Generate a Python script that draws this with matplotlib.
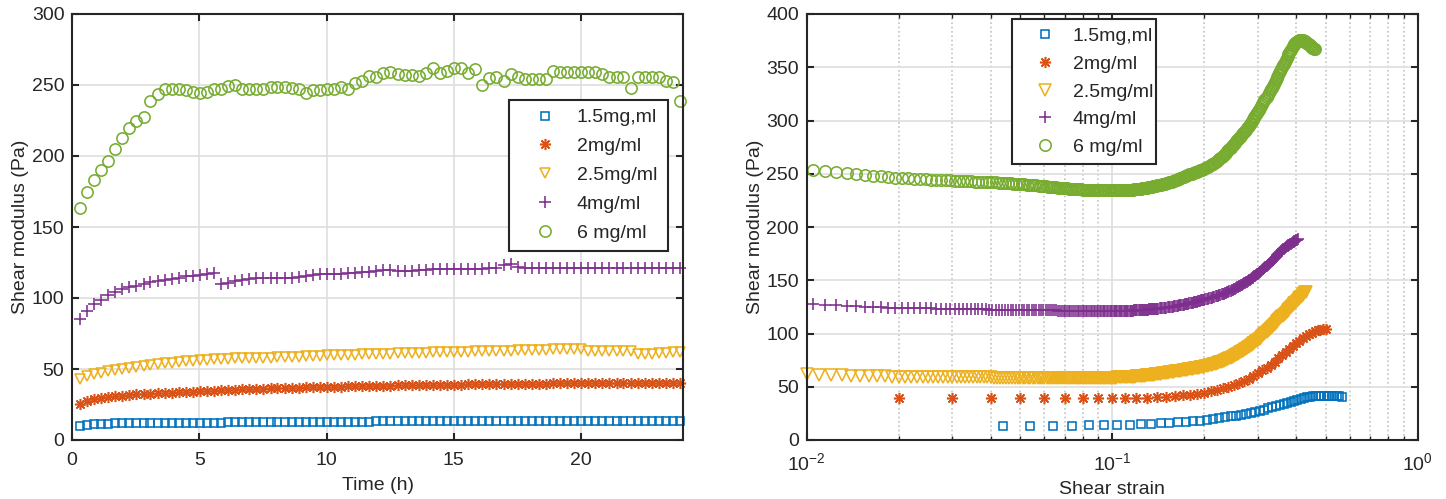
import matplotlib
matplotlib.use("Agg")
import matplotlib.pyplot as plt
from matplotlib.ticker import LogLocator, NullFormatter, FixedLocator

# ---------------- data ----------------
labels = ["1.5mg,ml", "2mg/ml", "2.5mg/ml", "4mg/ml", "6 mg/ml"]
colors = ["#0072BD", "#D95319", "#EDB120", "#7E2F8E", "#77AC30"]

left_xticks = [0, 5, 10, 15, 20]
left_yticks = [0, 50, 100, 150, 200, 250, 300]
right_yticks = [0, 50, 100, 150, 200, 250, 300, 350, 400]

time_h = [0.31, 0.59, 0.86, 1.14, 1.42, 1.70, 1.97, 2.25, 2.53, 2.81,
          3.08, 3.36, 3.64, 3.92, 4.19, 4.47, 4.75, 5.02, 5.30, 5.58,
          5.86, 6.13, 6.41, 6.69, 6.97, 7.24, 7.52, 7.80, 8.07, 8.35,
          8.63, 8.91, 9.18, 9.46, 9.74, 10.02, 10.29, 10.57, 10.85, 11.13,
          11.40, 11.68, 11.96, 12.23, 12.51, 12.79, 13.07, 13.34, 13.62, 13.90,
          14.18, 14.45, 14.73, 15.01, 15.28, 15.56, 15.84, 16.12, 16.39, 16.67,
          16.95, 17.23, 17.50, 17.78, 18.06, 18.34, 18.61, 18.89, 19.17, 19.44,
          19.72, 20.00, 20.28, 20.55, 20.83, 21.11, 21.39, 21.66, 21.94, 22.22,
          22.49, 22.77, 23.05, 23.33, 23.60, 23.88]

g_time_15 = [10.1, 10.8, 11.2, 11.5, 11.6, 11.7, 11.8, 11.9, 11.9, 12.0,
             12.0, 12.0, 12.1, 12.1, 12.1, 12.2, 12.2, 12.2, 12.3, 12.3,
             12.3, 12.4, 12.4, 12.4, 12.5, 12.5, 12.5, 12.6, 12.6, 12.6,
             12.7, 12.7, 12.7, 12.8, 12.8, 12.8, 12.9, 12.9, 12.9, 13.0,
             13.0, 13.0, 13.1, 13.1, 13.1, 13.1, 13.1, 13.1, 13.1, 13.1,
             13.2, 13.2, 13.2, 13.2, 13.2, 13.2, 13.2, 13.2, 13.3, 13.3,
             13.3, 13.3, 13.3, 13.3, 13.3, 13.3, 13.4, 13.4, 13.4, 13.4,
             13.4, 13.4, 13.4, 13.4, 13.5, 13.5, 13.5, 13.5, 13.5, 13.5,
             13.6, 13.6, 13.6, 13.6, 13.6, 13.6]
g_time_2 = [25.1, 27.5, 28.9, 29.8, 30.3, 31.0, 31.2, 31.7, 32.2, 32.2,
            32.6, 32.8, 33.1, 33.3, 33.6, 33.8, 34.0, 34.3, 34.5, 34.7,
            35.0, 35.2, 35.4, 35.6, 35.8, 35.9, 36.1, 36.3, 36.4, 36.6,
            36.7, 36.9, 37.0, 37.1, 37.3, 37.4, 37.5, 37.6, 37.7, 37.8,
            37.9, 38.0, 38.1, 38.2, 38.3, 38.4, 38.4, 38.5, 38.6, 38.7,
            38.7, 38.8, 38.9, 38.9, 39.0, 39.1, 39.1, 39.2, 39.3, 39.3,
            39.4, 39.5, 39.5, 39.6, 39.6, 39.7, 39.7, 39.8, 39.8, 39.9,
            39.9, 40.0, 40.0, 40.1, 40.1, 40.1, 40.2, 40.2, 40.2, 40.3,
            40.3, 40.3, 40.4, 40.4, 40.4, 40.4]
g_time_25 = [42.7, 45.1, 46.5, 47.4, 48.6, 49.5, 50.2, 50.9, 51.6, 52.3,
             52.8, 53.3, 54.0, 54.5, 54.9, 55.4, 55.6, 56.1, 56.6, 56.8,
             57.0, 57.2, 57.4, 57.5, 57.7, 57.8, 57.9, 58.0, 58.2, 58.4,
             58.6, 58.8, 59.0, 59.2, 59.4, 59.6, 59.9, 60.0, 60.1, 60.2,
             60.3, 60.5, 60.6, 60.8, 60.9, 61.0, 61.2, 61.3, 61.4, 61.5,
             61.7, 61.8, 61.9, 62.0, 62.2, 62.3, 62.4, 62.5, 62.6, 62.7,
             62.9, 63.0, 63.1, 63.2, 63.3, 63.5, 63.6, 63.8, 63.9, 64.0,
             64.2, 64.3, 63.0, 62.9, 62.9, 62.8, 62.8, 62.8, 62.7, 60.3,
             60.6, 60.9, 61.2, 61.5, 61.8, 62.0]
g_time_4 = [85.2, 90.8, 95.5, 98.6, 102.1, 104.0, 106.1, 107.5, 108.7, 109.9,
            111.0, 112.2, 112.9, 113.4, 113.8, 115.3, 115.5, 116.2, 116.9, 117.6,
            110.1, 110.8, 111.7, 112.5, 113.4, 113.8, 113.8, 113.8, 113.8, 114.3,
            114.3, 114.8, 115.3, 116.2, 116.9, 116.9, 116.9, 116.9, 117.4, 117.8,
            118.3, 118.5, 119.0, 119.5, 119.7, 119.2, 119.2, 119.2, 119.9, 119.9,
            120.1, 120.1, 120.2, 120.2, 120.7, 120.7, 120.7, 120.7, 121.1, 121.1,
            122.9, 123.7, 121.8, 121.0, 121.0, 120.8, 120.8, 120.8, 120.8, 120.8,
            121.0, 121.0, 121.0, 121.0, 120.8, 120.8, 121.0, 121.0, 121.2, 121.2,
            121.0, 121.0, 121.2, 121.2, 121.2, 121.4]
g_time_6 = [163.2, 174.6, 183.0, 190.0, 196.5, 204.7, 212.9, 219.5, 224.9, 227.5,
            239.0, 243.4, 247.2, 247.2, 247.2, 246.2, 245.3, 244.4, 245.3, 247.0,
            247.5, 249.3, 250.2, 247.5, 247.5, 247.5, 247.5, 248.4, 248.8, 248.8,
            248.0, 247.2, 244.6, 246.2, 246.2, 247.0, 247.5, 248.4, 247.5, 251.6,
            252.8, 256.3, 255.4, 258.2, 258.9, 257.5, 256.8, 256.8, 256.3, 258.7,
            262.2, 258.2, 260.1, 262.2, 262.2, 258.7, 261.5, 250.0, 254.7, 255.9,
            253.1, 257.8, 255.9, 254.2, 254.2, 254.2, 254.2, 259.9, 259.4, 258.9,
            258.9, 258.9, 258.9, 258.9, 257.8, 255.9, 255.4, 255.4, 247.6, 255.4,
            255.4, 255.9, 255.9, 253.1, 252.3, 238.7]

# strain grids (right panel)
strain_a = [0.0105, 0.0115, 0.0125, 0.0135, 0.0145, 0.0155, 0.0165, 0.0175, 0.0185, 0.0195,
            0.0205, 0.0215, 0.0225, 0.0235, 0.0245, 0.0255, 0.0265, 0.0275, 0.0285, 0.0295,
            0.0305, 0.0315, 0.0325, 0.0335, 0.0345, 0.0355, 0.0365, 0.0375, 0.0385, 0.0395,
            0.0405, 0.0415, 0.0425, 0.0435, 0.0445, 0.0455, 0.0465, 0.0475, 0.0485, 0.0495,
            0.0505, 0.0515, 0.0525, 0.0535, 0.0545, 0.0555, 0.0565, 0.0575, 0.0585, 0.0595,
            0.0605, 0.0615, 0.0625, 0.0635, 0.0645, 0.0655, 0.0665, 0.0675, 0.0685, 0.0695]
strain_b = [0.010, 0.011, 0.012, 0.013, 0.014, 0.015, 0.016, 0.017, 0.018, 0.019,
            0.020, 0.021, 0.022, 0.023, 0.024, 0.025, 0.026, 0.027, 0.028, 0.029,
            0.030, 0.031, 0.032, 0.033, 0.034, 0.035, 0.036, 0.037, 0.038, 0.039,
            0.040, 0.041, 0.042, 0.043, 0.044, 0.045, 0.046, 0.047, 0.048, 0.049,
            0.050, 0.051, 0.052, 0.053, 0.054, 0.055, 0.056, 0.057, 0.058, 0.059,
            0.060, 0.061, 0.062, 0.063, 0.064, 0.065, 0.066, 0.067, 0.068, 0.069]
strain_tail = [0.070, 0.071, 0.072, 0.073, 0.074, 0.075, 0.076, 0.077, 0.078, 0.079,
               0.080, 0.081, 0.082, 0.083, 0.084, 0.085, 0.086, 0.087, 0.088, 0.089,
               0.090, 0.091, 0.092, 0.093, 0.094, 0.095, 0.096, 0.097, 0.098, 0.099,
               0.100,
               0.101, 0.102, 0.103, 0.104, 0.105, 0.106, 0.107, 0.108, 0.109, 0.110,
               0.111, 0.112, 0.113, 0.114, 0.115, 0.116, 0.117, 0.118, 0.119, 0.120,
               0.121, 0.122, 0.123, 0.124, 0.125, 0.126, 0.127, 0.128, 0.129, 0.130,
               0.131, 0.132, 0.133, 0.134, 0.135, 0.136, 0.137, 0.138, 0.139, 0.140,
               0.1415, 0.1430, 0.1445, 0.1460, 0.1475, 0.1490, 0.1505, 0.1520, 0.1535, 0.1550,
               0.1565, 0.1580, 0.1595, 0.1610, 0.1625, 0.1640, 0.1655, 0.1670, 0.1685, 0.1700,
               0.1715, 0.1730, 0.1745, 0.1760, 0.1775, 0.1790, 0.1805, 0.1820, 0.1835, 0.1850,
               0.1865, 0.1880, 0.1895, 0.1910, 0.1925, 0.1940, 0.1955, 0.1970, 0.1985, 0.2000,
               0.202, 0.204, 0.206, 0.208, 0.210, 0.212, 0.214, 0.216, 0.218, 0.220,
               0.222, 0.224, 0.226, 0.228, 0.230, 0.232, 0.234, 0.236, 0.238, 0.240,
               0.242, 0.244, 0.246, 0.248, 0.250, 0.252, 0.254, 0.256, 0.258, 0.260,
               0.262, 0.264, 0.266, 0.268, 0.270, 0.272, 0.274, 0.276, 0.278, 0.280,
               0.282, 0.284, 0.286, 0.288, 0.290, 0.292, 0.294, 0.296, 0.298, 0.300,
               0.3025, 0.3050, 0.3075, 0.3100, 0.3125, 0.3150, 0.3175, 0.3200, 0.3225, 0.3250,
               0.3275, 0.3300, 0.3325, 0.3350, 0.3375, 0.3400, 0.3425, 0.3450, 0.3475, 0.3500,
               0.3525, 0.3550, 0.3575, 0.3600, 0.3625, 0.3650, 0.3675, 0.3700, 0.3725, 0.3750,
               0.3775, 0.3800, 0.3825, 0.3850, 0.3875, 0.3900, 0.3925, 0.3950, 0.3975, 0.4000,
               0.4025, 0.4050, 0.4075, 0.4100, 0.4125, 0.4150, 0.4175, 0.4200, 0.4225, 0.4250,
               0.4275, 0.4300, 0.4325, 0.4350, 0.4375, 0.4400, 0.4425, 0.4450, 0.4475, 0.4500,
               0.4525, 0.4550, 0.4575, 0.4600, 0.4625, 0.4650]
strain_2 = [0.02, 0.03, 0.04, 0.05, 0.06, 0.07, 0.08, 0.09, 0.10, 0.11,
            0.12, 0.13, 0.14, 0.15, 0.16, 0.17, 0.18, 0.19, 0.20, 0.21,
            0.22, 0.23, 0.24, 0.25, 0.26, 0.27, 0.28, 0.29, 0.30, 0.31,
            0.32, 0.33, 0.34, 0.35, 0.36, 0.37, 0.38, 0.39, 0.40, 0.41,
            0.42, 0.43, 0.44, 0.45, 0.46, 0.47, 0.48, 0.49, 0.50]
strain_15 = [0.044, 0.054, 0.064, 0.074, 0.084, 0.094, 0.104, 0.114, 0.124, 0.134,
             0.144, 0.154, 0.164, 0.174, 0.184, 0.194, 0.204, 0.214, 0.224, 0.234,
             0.244, 0.254, 0.264, 0.274, 0.284, 0.294, 0.304, 0.314, 0.324, 0.334,
             0.344, 0.354, 0.364, 0.374, 0.384, 0.394, 0.404, 0.414, 0.424, 0.434,
             0.444, 0.454, 0.464, 0.474, 0.484, 0.494, 0.504, 0.514, 0.524, 0.534,
             0.544, 0.554, 0.564]

g_strain_15 = [13.5, 13.5, 13.5, 13.6, 13.7, 13.8, 13.9, 14.2, 14.6, 15.0,
               15.5, 16.0, 16.5, 17.0, 17.6, 18.2, 18.9, 19.6, 20.4, 21.2,
               22.1, 23.0, 23.9, 24.8, 25.7, 26.6, 27.6, 28.6, 29.7, 30.8,
               31.9, 33.0, 34.1, 35.1, 36.1, 37.0, 37.9, 38.7, 39.4, 40.0,
               40.5, 40.9, 41.2, 41.4, 41.5, 41.5, 41.4, 41.3, 41.2, 41.1,
               41.0, 40.9, 40.8]
g_strain_2 = [39.2, 39.2, 39.1, 39.0, 39.0, 39.0, 39.0, 39.0, 39.0, 39.1,
              39.3, 39.6, 40.0, 40.5, 41.1, 41.8, 42.6, 43.5, 44.6, 45.8,
              47.1, 48.5, 50.0, 51.6, 53.5, 55.5, 57.7, 60.1, 62.6, 65.3,
              68.0, 70.8, 73.7, 76.7, 79.6, 82.5, 85.4, 88.2, 90.8, 93.3,
              95.6, 97.6, 99.4, 100.8, 102.0, 102.9, 103.5, 103.9, 104.0]
g_strain_25 = [62.0, 61.4, 61.0, 60.7, 60.5, 60.3, 60.1, 59.9, 59.8, 59.6,
               59.5, 59.4, 59.4, 59.3, 59.3, 59.2, 59.2, 59.1, 59.1, 59.0,
               59.0, 59.0, 58.9, 58.9, 58.9, 58.8, 58.8, 58.8, 58.7, 58.7,
               58.7, 58.6, 58.6, 58.6, 58.5, 58.5, 58.5, 58.4, 58.4, 58.3,
               58.3, 58.3, 58.2, 58.2, 58.2, 58.2, 58.2, 58.2, 58.2, 58.2,
               58.2, 58.2, 58.2, 58.2, 58.2, 58.2, 58.2, 58.2, 58.2, 58.2,
               58.2, 58.2, 58.2, 58.2, 58.2, 58.2, 58.2, 58.2, 58.3, 58.3,
               58.3, 58.3, 58.3, 58.3, 58.3, 58.3, 58.3, 58.4, 58.4, 58.4,
               58.4, 58.4, 58.4, 58.4, 58.4, 58.5, 58.5, 58.5, 58.5, 58.5,
               58.5,
               58.5, 58.6, 58.6, 58.7, 58.7, 58.8, 58.8, 58.9, 58.9, 59.0,
               59.0, 59.1, 59.2, 59.3, 59.3, 59.4, 59.5, 59.6, 59.6, 59.7,
               59.8, 59.9, 60.0, 60.1, 60.2, 60.3, 60.4, 60.5, 60.6, 60.7,
               60.8, 60.9, 61.0, 61.2, 61.3, 61.4, 61.5, 61.6, 61.8, 61.9,
               62.0, 62.2, 62.4, 62.6, 62.8, 63.0, 63.1, 63.3, 63.5, 63.7,
               63.8, 64.0, 64.2, 64.4, 64.5, 64.7, 64.9, 65.1, 65.2, 65.4,
               65.6, 65.8, 65.9, 66.1, 66.3, 66.5, 66.6, 66.8, 67.0, 67.2,
               67.3, 67.5, 67.7, 67.9, 68.0, 68.2, 68.4, 68.6, 68.7, 68.9,
               69.2, 69.5, 69.8, 70.1, 70.4, 70.7, 71.0, 71.4, 71.7, 72.0,
               72.4, 72.8, 73.2, 73.6, 74.0, 74.5, 74.9, 75.4, 75.9, 76.4,
               76.9, 77.4, 77.9, 78.4, 78.9, 79.5, 80.0, 80.6, 81.1, 81.7,
               82.2, 82.8, 83.3, 83.9, 84.5, 85.1, 85.7, 86.3, 86.9, 87.5,
               88.1, 88.8, 89.4, 90.1, 90.7, 91.4, 92.0, 92.7, 93.3, 93.9,
               94.6, 95.3, 96.3, 97.2, 98.2, 99.1, 100.1, 101.0, 102.0, 102.9,
               103.9, 104.8, 105.8, 106.7, 107.7, 108.6, 109.6, 110.5, 111.5, 112.4,
               113.3, 114.2, 115.1, 116.0, 116.9, 117.8, 118.7, 119.6, 120.5, 121.4,
               122.3, 123.1, 124.0, 124.8, 125.7, 126.5, 127.4, 128.2, 129.1, 129.9,
               130.7, 131.5, 132.3, 133.1, 133.9, 134.7, 135.5, 136.3, 137.1, 137.8,
               138.6, 139.3]
g_strain_4 = [127.7, 127.1, 126.6, 126.1, 125.7, 125.3, 125.0, 124.7, 124.4, 124.2,
              124.0, 123.9, 123.8, 123.7, 123.6, 123.5, 123.4, 123.3, 123.2, 123.1,
              123.0, 122.9, 122.9, 122.8, 122.8, 122.7, 122.7, 122.6, 122.6, 122.5,
              122.5, 122.4, 122.4, 122.3, 122.3, 122.2, 122.2, 122.1, 122.1, 122.0,
              122.0, 122.0, 121.9, 121.9, 121.9, 121.8, 121.8, 121.8, 121.7, 121.7,
              121.7, 121.7, 121.6, 121.6, 121.6, 121.6, 121.5, 121.5, 121.5, 121.5,
              121.5, 121.5, 121.4, 121.4, 121.4, 121.4, 121.3, 121.3, 121.3, 121.3,
              121.2, 121.2, 121.2, 121.2, 121.2, 121.2, 121.1, 121.1, 121.1, 121.1,
              121.1, 121.1, 121.1, 121.0, 121.0, 121.0, 121.0, 121.0, 121.0, 121.0,
              121.0,
              121.0, 121.0, 121.0, 121.0, 121.0, 121.1, 121.1, 121.1, 121.2, 121.2,
              121.2, 121.3, 121.3, 121.4, 121.4, 121.5, 121.5, 121.6, 121.7, 121.8,
              121.8, 121.9, 121.9, 122.0, 122.1, 122.2, 122.2, 122.3, 122.4, 122.5,
              122.5, 122.6, 122.7, 122.8, 122.8, 122.9, 123.0, 123.1, 123.2, 123.3,
              123.4, 123.6, 123.7, 123.9, 124.0, 124.2, 124.3, 124.5, 124.7, 124.9,
              125.1, 125.3, 125.5, 125.7, 125.9, 126.1, 126.3, 126.5, 126.7, 126.9,
              127.1, 127.4, 127.6, 127.9, 128.1, 128.3, 128.5, 128.8, 129.0, 129.3,
              129.5, 129.8, 130.0, 130.3, 130.5, 130.8, 131.0, 131.2, 131.4, 131.6,
              132.0, 132.3, 132.7, 133.0, 133.4, 133.7, 134.1, 134.4, 134.8, 135.1,
              135.5, 135.9, 136.3, 136.7, 137.1, 137.5, 137.9, 138.3, 138.8, 139.2,
              139.7, 140.1, 140.6, 141.1, 141.6, 142.1, 142.7, 143.2, 143.8, 144.3,
              144.9, 145.4, 146.0, 146.5, 147.1, 147.6, 148.2, 148.8, 149.4, 150.0,
              150.6, 151.2, 151.8, 152.4, 153.0, 153.6, 154.3, 154.9, 155.6, 156.2,
              156.8, 157.5, 158.5, 159.4, 160.4, 161.3, 162.3, 163.2, 164.2, 165.1,
              166.1, 167.0, 168.0, 168.9, 169.9, 170.9, 171.9, 172.9, 173.9, 174.9,
              175.8, 176.7, 177.5, 178.3, 179.1, 179.8, 180.5, 181.1, 181.7, 182.3,
              182.9, 183.4, 184.0, 184.5, 185.1, 185.6, 186.2, 186.7, 187.2, 187.7,
              188.1, 188.5]
g_strain_6 = [253.5, 252.5, 251.5, 250.6, 249.7, 248.9, 248.2, 247.5, 246.9, 246.4,
              245.9, 245.6, 245.3, 245.0, 244.8, 244.6, 244.3, 244.1, 243.9, 243.7,
              243.5, 243.3, 243.2, 243.0, 242.8, 242.7, 242.5, 242.4, 242.2, 242.1,
              241.9, 241.8, 241.6, 241.5, 241.3, 241.1, 240.9, 240.7, 240.6, 240.4,
              240.2, 240.0, 239.8, 239.6, 239.4, 239.2, 239.0, 238.8, 238.6, 238.4,
              238.2, 238.0, 237.8, 237.6, 237.4, 237.2, 237.0, 236.8, 236.6, 236.4,
              236.3, 236.2, 236.0, 235.9, 235.8, 235.6, 235.5, 235.4, 235.3, 235.3,
              235.2, 235.1, 235.1, 235.0, 235.0, 234.9, 234.9, 234.8, 234.8, 234.8,
              234.7, 234.7, 234.7, 234.6, 234.6, 234.6, 234.6, 234.5, 234.5, 234.5,
              234.5,
              234.5, 234.5, 234.5, 234.5, 234.5, 234.6, 234.6, 234.6, 234.7, 234.7,
              234.8, 234.8, 234.9, 234.9, 235.0, 235.1, 235.2, 235.3, 235.4, 235.5,
              235.7, 235.8, 236.0, 236.1, 236.3, 236.4, 236.6, 236.7, 236.9, 237.0,
              237.2, 237.4, 237.6, 237.8, 238.0, 238.2, 238.4, 238.6, 238.8, 239.0,
              239.3, 239.6, 239.9, 240.2, 240.5, 240.8, 241.1, 241.5, 241.9, 242.3,
              242.7, 243.2, 243.6, 244.1, 244.5, 245.0, 245.4, 245.9, 246.3, 246.8,
              247.2, 247.6, 248.0, 248.5, 248.9, 249.3, 249.7, 250.1, 250.5, 250.9,
              251.3, 251.7, 252.1, 252.5, 252.8, 253.2, 253.5, 253.9, 254.2, 254.6,
              255.2, 255.9, 256.6, 257.3, 258.0, 258.7, 259.5, 260.3, 261.1, 262.0,
              262.9, 263.9, 264.8, 265.8, 266.8, 267.8, 268.8, 269.8, 270.9, 272.1,
              273.3, 274.5, 275.6, 276.8, 278.0, 279.1, 280.3, 281.4, 282.6, 283.7,
              284.8, 285.9, 287.0, 288.1, 289.2, 290.3, 291.5, 292.7, 293.9, 295.2,
              296.5, 297.8, 299.1, 300.5, 301.8, 303.2, 304.5, 305.9, 307.2, 308.6,
              310.3, 312.0, 313.7, 315.4, 317.2, 318.9, 320.6, 322.3, 324.1, 325.8,
              327.5, 329.2, 330.9, 332.6, 334.4, 336.1, 337.9, 339.6, 341.3, 343.0,
              344.8, 346.5, 348.3, 350.0, 351.7, 353.4, 355.1, 356.8, 358.6, 360.3,
              362.0, 363.7, 365.2, 366.5, 368.1, 369.5, 370.7, 371.8, 372.7, 373.5,
              374.1, 374.6, 375.0, 375.2, 375.3, 375.4, 375.3, 375.2, 374.9, 374.6,
              374.2, 373.7, 373.2, 372.6, 372.0, 371.4, 370.8, 370.2, 369.6, 369.0,
              368.5, 367.9, 367.4, 366.8]

# ---------------- style ----------------
plt.rcParams['font.family'] = ['Liberation Sans', 'DejaVu Sans']
plt.rcParams['mathtext.fontset'] = 'custom'
plt.rcParams['mathtext.rm'] = 'Liberation Sans'
plt.rcParams['mathtext.it'] = 'Liberation Sans:italic'
plt.rcParams['mathtext.bf'] = 'Liberation Sans:bold'
plt.rcParams['font.size'] = 14
TXT = '#262626'

W, H = 1446, 499
fig = plt.figure(figsize=(W / 100, H / 100), dpi=100)
ax1 = fig.add_axes([72 / W, 59 / H, 611 / W, 426 / H])
ax2 = fig.add_axes([806.7 / W, 59 / H, 611 / W, 426 / H])

ASTER = (8, 2, 0)
mk_left = [dict(marker='s', ms=5.8), dict(marker=ASTER, ms=8.0), dict(marker='v', ms=7.6),
           dict(marker='+', ms=8.6), dict(marker='o', ms=8.1)]
mk_right = [dict(marker='s', ms=6.0), dict(marker=ASTER, ms=8.0), dict(marker='v', ms=8.0),
            dict(marker='+', ms=8.8), dict(marker='o', ms=8.2)]
MEW = 1.15


def style_axes(ax):
    for s in ax.spines.values():
        s.set_linewidth(1.5)
        s.set_color(TXT)
        s.set_zorder(5)
    ax.tick_params(which='major', direction='in', length=5, width=1.5,
                   top=True, right=True, colors=TXT, labelsize=14)
    ax.tick_params(which='minor', direction='in', length=3, width=1.0,
                   top=True, right=True, colors=TXT)
    ax.tick_params(axis='x', which='major', pad=8.5)
    ax.tick_params(axis='y', which='major', pad=5.5)
    ax.set_axisbelow(True)


# ---- left panel ----
left_series = [g_time_15, g_time_2, g_time_25, g_time_4, g_time_6]
for vals, c, m, lab in zip(left_series, colors, mk_left, labels):
    ax1.plot(time_h, vals, ls='none', color=c, mfc='none', mec=c, mew=MEW,
             label=lab, clip_on=False, zorder=3, **m)
ax1.set_xlim(0, 24)
ax1.set_ylim(0, 300)
ax1.xaxis.set_major_locator(FixedLocator(left_xticks))
ax1.yaxis.set_major_locator(FixedLocator(left_yticks))
ax1.grid(True, color='#dedede', lw=1.2)
style_axes(ax1)
ax1.set_xlabel('Time (h)', color=TXT, fontsize=14, labelpad=6)
ax1.set_ylabel('Shear modulus (Pa)', color=TXT, fontsize=14, labelpad=2)
leg1 = ax1.legend(loc='upper left', bbox_to_anchor=(0.715, 0.446, 0.260, 0.352),
                  mode='expand', borderaxespad=0, borderpad=0.45, handlelength=2.85,
                  handletextpad=0.2, labelspacing=0.58, fancybox=False, framealpha=1,
                  edgecolor=TXT, fontsize=14)
leg1.get_frame().set_linewidth(1.5)
for t in leg1.get_texts():
    t.set_color(TXT)

# ---- right panel ----
right_x = [strain_15, strain_2, strain_b + strain_tail, strain_a + strain_tail, strain_a + strain_tail]
right_y = [g_strain_15, g_strain_2, g_strain_25, g_strain_4, g_strain_6]
for xs, vals, c, m, lab in zip(right_x, right_y, colors, mk_right, labels):
    ax2.plot(xs[:len(vals)], vals, ls='none', color=c, mfc='none', mec=c, mew=MEW,
             label=lab, clip_on=False, zorder=3, **m)
ax2.set_xscale('log')
ax2.set_xlim(1e-2, 1)
ax2.set_ylim(0, 400)
ax2.yaxis.set_major_locator(FixedLocator(right_yticks))
ax2.xaxis.set_major_locator(LogLocator(base=10, numticks=10))
ax2.xaxis.set_minor_locator(LogLocator(base=10, subs=range(2, 10), numticks=10))
ax2.xaxis.set_minor_formatter(NullFormatter())
ax2.grid(True, which='major', color='#dedede', lw=1.2)
ax2.xaxis.grid(True, which='minor', color='#c4c4c4', lw=1.2, ls=(0, (1, 1.6)))
style_axes(ax2)
ax2.set_xlabel('Shear strain', color=TXT, fontsize=14, labelpad=5)
ax2.set_ylabel('Shear modulus (Pa)', color=TXT, fontsize=14, labelpad=2)
leg2 = ax2.legend(loc='upper left', bbox_to_anchor=(0.3365, 0.5, 0.2347, 0.4876),
                  mode='expand', borderaxespad=0, borderpad=0.42, handlelength=2.55,
                  handletextpad=0.15, labelspacing=0.52, fancybox=False, framealpha=1,
                  edgecolor=TXT, fontsize=14)
leg2.get_frame().set_linewidth(1.5)
for t in leg2.get_texts():
    t.set_color(TXT)

fig.savefig('out.png', dpi=100)
